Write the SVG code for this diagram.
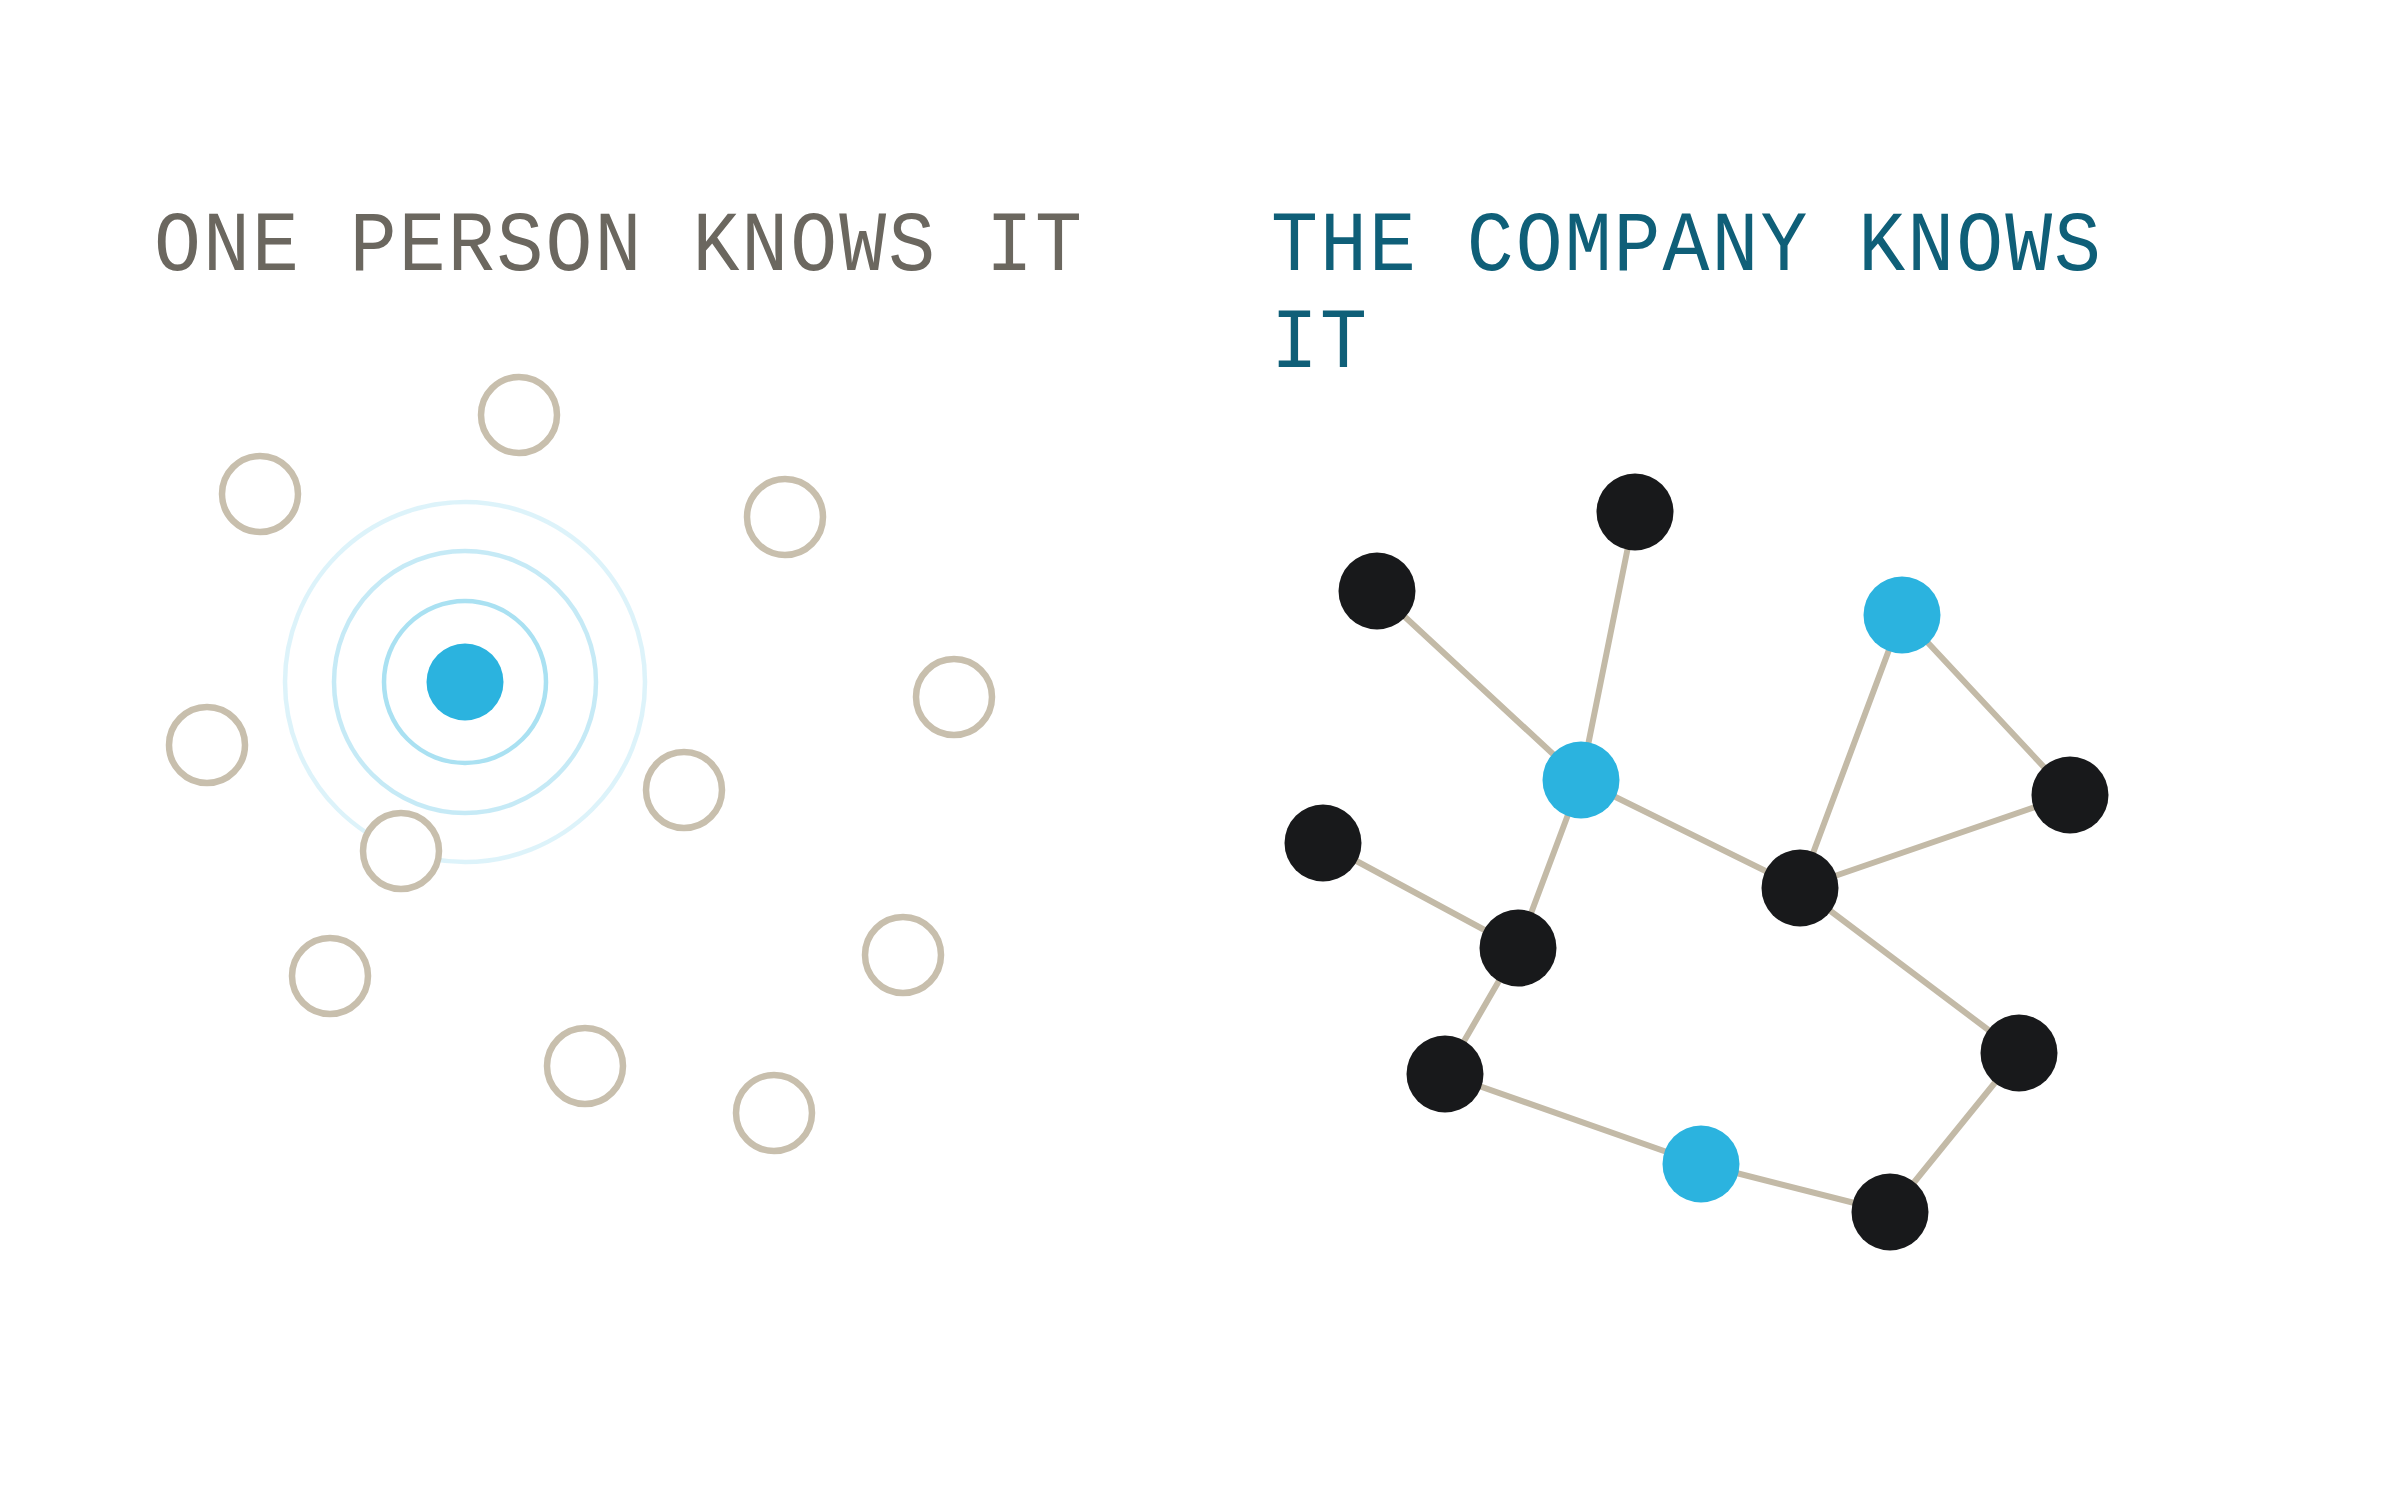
<svg xmlns="http://www.w3.org/2000/svg" width="2400" height="1500" viewBox="0 0 2400 1500">
<style>
.title{font-family:"Liberation Mono","DejaVu Sans Mono",monospace;font-size:85px;letter-spacing:2.2px;}
.t1{fill:#6b675f;}
.t2{fill:#0f5f78;}
.peer{fill:#ffffff;stroke:#c8bfad;stroke-width:6.5;}
.blk{fill:#18191b;}
.blu{fill:#2bb3df;}
.edge{stroke:#c3baa7;stroke-width:6;fill:none;stroke-linecap:round;}
.ring{fill:none;stroke:#2bb3df;stroke-width:4.5;}
</style>
<rect width="2400" height="1500" fill="#ffffff"/>
<text class="title t1" transform="translate(154,270) scale(0.92,1)" x="0" y="0">ONE PERSON KNOWS IT</text>
<text class="title t2" transform="translate(1271,270) scale(0.92,1)" x="0" y="0">THE COMPANY KNOWS</text>
<text class="title t2" transform="translate(1271,367) scale(0.92,1)" x="0" y="0">IT</text>

<g id="rings">
<circle class="ring" cx="465" cy="682" r="180" stroke-opacity="0.16"/>
<circle class="ring" cx="465" cy="682" r="131" stroke-opacity="0.27"/>
<circle class="ring" cx="465" cy="682" r="81" stroke-opacity="0.4"/>
</g>
<g id="center"><circle class="blu" cx="465" cy="682" r="38.5"/></g>
<g id="p1"><circle class="peer" cx="519" cy="415" r="38"/></g>
<g id="p2"><circle class="peer" cx="260" cy="494" r="38"/></g>
<g id="p3"><circle class="peer" cx="785" cy="517" r="38"/></g>
<g id="p4"><circle class="peer" cx="954" cy="697" r="38"/></g>
<g id="p5"><circle class="peer" cx="207" cy="745" r="38"/></g>
<g id="p6"><circle class="peer" cx="684" cy="790" r="38"/></g>
<g id="p7"><circle class="peer" cx="401" cy="851" r="38"/></g>
<g id="p8"><circle class="peer" cx="903" cy="955" r="38"/></g>
<g id="p9"><circle class="peer" cx="330" cy="976" r="38"/></g>
<g id="p10"><circle class="peer" cx="585" cy="1066" r="38"/></g>
<g id="p11"><circle class="peer" cx="774" cy="1113" r="38"/></g>

<g id="connectors">
<line class="edge" x1="1377" y1="591" x2="1581" y2="780"/>
<line class="edge" x1="1635" y1="512" x2="1581" y2="780"/>
<line class="edge" x1="1581" y1="780" x2="1800" y2="888"/>
<line class="edge" x1="1581" y1="780" x2="1518" y2="948"/>
<line class="edge" x1="1323" y1="843" x2="1518" y2="948"/>
<line class="edge" x1="1518" y1="948" x2="1445" y2="1074"/>
<line class="edge" x1="1445" y1="1074" x2="1701" y2="1164"/>
<line class="edge" x1="1701" y1="1164" x2="1890" y2="1212"/>
<line class="edge" x1="1890" y1="1212" x2="2019" y2="1053"/>
<line class="edge" x1="2019" y1="1053" x2="1800" y2="888"/>
<line class="edge" x1="1800" y1="888" x2="1902" y2="615"/>
<line class="edge" x1="1902" y1="615" x2="2070" y2="795"/>
<line class="edge" x1="1800" y1="888" x2="2070" y2="795"/>
</g>

<g id="nA"><circle class="blk" cx="1635" cy="512" r="38.5"/></g>
<g id="nB"><circle class="blk" cx="1377" cy="591" r="38.5"/></g>
<g id="nC"><circle class="blu" cx="1902" cy="615" r="38.5"/></g>
<g id="nD"><circle class="blu" cx="1581" cy="780" r="38.5"/></g>
<g id="nE"><circle class="blk" cx="2070" cy="795" r="38.5"/></g>
<g id="nF"><circle class="blk" cx="1323" cy="843" r="38.5"/></g>
<g id="nG"><circle class="blk" cx="1800" cy="888" r="38.5"/></g>
<g id="nH"><circle class="blk" cx="1518" cy="948" r="38.5"/></g>
<g id="nI"><circle class="blk" cx="2019" cy="1053" r="38.5"/></g>
<g id="nJ"><circle class="blk" cx="1445" cy="1074" r="38.5"/></g>
<g id="nK"><circle class="blu" cx="1701" cy="1164" r="38.5"/></g>
<g id="nL"><circle class="blk" cx="1890" cy="1212" r="38.5"/></g>
</svg>
